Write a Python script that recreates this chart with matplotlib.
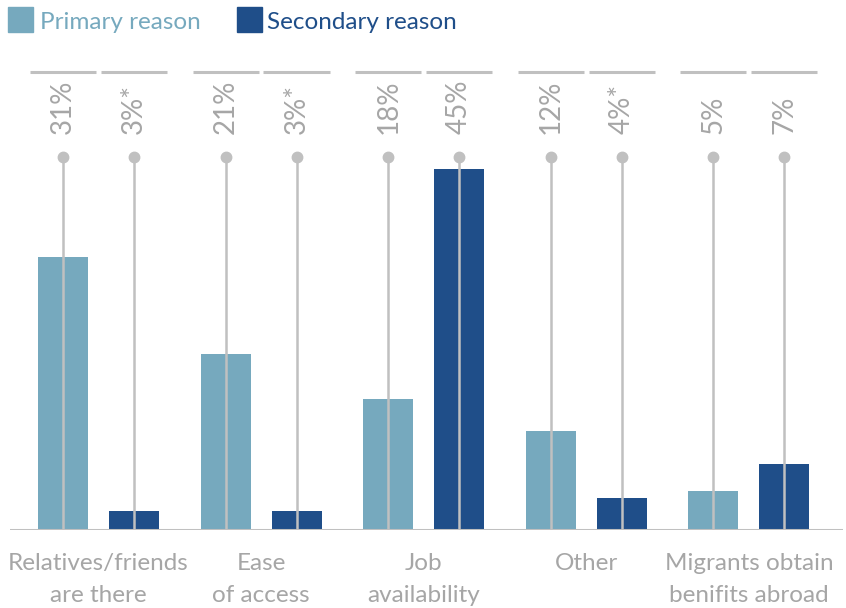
import matplotlib.pyplot as plt
import numpy as np

categories = ["Relatives/friends\nare there", "Ease\nof access", "Job\navailability",
              "Other", "Migrants obtain\nbenifits abroad"]
primary = [34.0, 21.9, 16.3, 12.3, 4.9]
secondary = [2.4, 2.4, 45.0, 4.0, 8.2]
primary_labels = ["31%", "21%", "18%", "12%", "5%"]
secondary_labels = ["3%*", "3%*", "45%", "4%*", "7%"]

C_PRI = "#76A9BE"
C_SEC = "#1F4E89"
GREY = "#C0C0C0"
TXT = "#A6A6A6"
FONT = ["Lato", "DejaVu Sans"]

W, H = 846, 608
fig = plt.figure(figsize=(W / 100, H / 100), dpi=100)
# axes from x=10..843 px, y baseline 530 px up to 60 px
ax = fig.add_axes([10 / W, (H - 530) / H, 833 / W, 470 / H])
ax.set_xlim(-0.544, 4.579)
ax.set_ylim(0, 470 / 8.02)
ax.axis("off")

x = np.arange(len(categories))
off = 0.218
bw = 0.3075
ax.bar(x - off, primary, bw, color=C_PRI, zorder=2)
ax.bar(x + off, secondary, bw, color=C_SEC, zorder=2)

dot_y = 46.5
lab_y = 49.4
top_y = 57.1
for xs, labs in [(x - off, primary_labels), (x + off, secondary_labels)]:
    for xi, lab in zip(xs, labs):
        ax.plot([xi, xi], [0, dot_y], color=GREY, lw=1.8, zorder=3,
                solid_capstyle="butt")
        ax.plot(xi, dot_y, "o", color=GREY, ms=7.5, zorder=4)
        ax.text(xi, lab_y, lab, rotation=90, ha="center", va="bottom",
                fontsize=20, color=TXT, family=FONT)
        ax.plot([xi - 0.203, xi + 0.203], [top_y, top_y], color=GREY,
                lw=2.2, solid_capstyle="butt", clip_on=False)

ax.axhline(0, color=GREY, lw=2.2, zorder=5)

for xi, cat in zip(x, categories):
    ax.text(xi, -2.9, cat, ha="center", va="top", fontsize=17.5, color=TXT,
            family=FONT, linespacing=1.62)

# legend
fig.patches.append(plt.Rectangle((8 / W, 1 - 32 / H), 25 / W, 25 / H,
                                 transform=fig.transFigure, color=C_PRI))
fig.text(40 / W, 1 - 22.5 / H, "Primary reason", color=C_PRI, fontsize=17.5,
         va="center", family=FONT)
fig.patches.append(plt.Rectangle((237 / W, 1 - 32 / H), 25 / W, 25 / H,
                                 transform=fig.transFigure, color=C_SEC))
fig.text(267 / W, 1 - 22.5 / H, "Secondary reason", color=C_SEC, fontsize=17.5,
         va="center", family=FONT)

fig.savefig("out.png", dpi=100)
